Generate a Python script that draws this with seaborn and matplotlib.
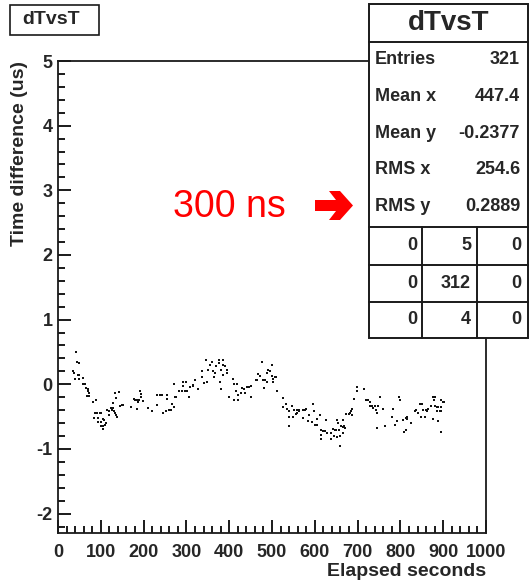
import matplotlib
matplotlib.use("Agg")
import matplotlib.pyplot as plt
from matplotlib.patches import Rectangle, Polygon
from matplotlib.lines import Line2D
from matplotlib.ticker import MultipleLocator
import seaborn as sns
import pandas as pd

# Elapsed time (s) and measured time difference (us) for each event
elapsed_s = [
    42, 45, 50, 36, 38, 46, 50, 40, 48, 58, 59, 62, 65, 69, 71, 73, 67, 72, 81, 88,
    86, 90, 97, 100, 85, 93, 94, 100, 104, 108, 111, 100, 106, 104, 110, 114, 118, 124, 125, 128,
    131, 133, 136, 137, 120, 128, 133, 143, 135, 145, 149, 153, 170, 178, 181, 184, 188, 184, 192, 193,
    193, 190, 199, 211, 219, 231, 232, 238, 243, 246, 252, 254, 254, 260, 264, 267, 271, 273, 276, 271,
    283, 289, 293, 297, 301, 293, 299, 305, 308, 316, 315, 320, 328, 336, 336, 340, 345, 347, 351, 355,
    359, 363, 364, 367, 369, 375, 377, 379, 380, 382, 385, 385, 386, 390, 394, 396, 408, 411, 418, 417,
    421, 421, 400, 412, 427, 429, 435, 437, 441, 447, 450, 452, 463, 466, 468, 472, 476, 480, 481, 484,
    488, 489, 491, 495, 501, 499, 503, 507, 509, 503, 512, 525, 525, 533, 536, 540, 540, 540,
    546, 548, 551, 556, 558, 559, 562, 564, 572, 573, 577, 579, 583, 587, 593, 595, 598, 600, 604, 606,
    612, 614, 614, 614, 618, 624, 626, 629, 639, 639, 642, 645, 647, 650, 651, 653, 655, 657, 659, 659,
    661, 665, 665, 667, 668, 670, 674, 679, 682, 684, 686, 688, 688, 692, 699, 699, 715, 720, 723, 725,
    729, 730, 733, 735, 741, 743, 745, 747, 752, 745, 760, 764, 780, 783, 787, 791, 797, 800, 805, 808,
    813, 812, 815, 816, 824, 834, 837, 842, 846, 850, 848, 852, 858, 860, 863, 865, 871, 875, 877, 881,
    879, 882, 885, 886, 888, 888, 892, 895, 896, 896, 896, 900, 902,
]
time_diff_us = [
    0.50, 0.34, 0.33, 0.20, 0.17, 0.15, 0.14, 0.08, 0.08, 0.10, 0.01, 0.01, -0.06, -0.07, -0.11, -0.14, -0.18, -0.18, -0.27, -0.25,
    -0.45, -0.45, -0.45, -0.45, -0.52, -0.52, -0.59, -0.59, -0.54, -0.55, -0.60, -0.64, -0.65, -0.69, -0.63, -0.39, -0.41, -0.37, -0.39, -0.37,
    -0.42, -0.44, -0.47, -0.51, -0.47, -0.29, -0.13, -0.12, -0.21, -0.33, -0.32, -0.32, -0.35, -0.23, -0.25, -0.24, -0.27, -0.38, -0.10, -0.15,
    -0.19, -0.24, -0.26, -0.37, -0.42, -0.32, -0.17, -0.17, -0.17, -0.45, -0.42, -0.22, -0.17, -0.39, -0.39, -0.30, -0.35, -0.19, -0.20, 0.01,
    -0.10, -0.10, -0.03, -0.10, -0.10, 0.04, 0.04, -0.20, -0.04, -0.02, -0.01, 0.07, -0.08, 0.12, 0.20, 0.02, 0.38, 0.04, 0.22, 0.30,
    0.35, 0.20, 0.12, 0.17, 0.28, 0.33, 0.38, 0.04, -0.07, 0.22, 0.38, 0.15, 0.30, 0.28, 0.22, 0.17, 0.08, 0.01, 0.01, -0.11,
    -0.16, -0.24, -0.20, -0.25, -0.13, -0.06, -0.07, -0.14, -0.04, -0.04, -0.20, -0.02, 0.07, 0.06, 0.16, 0.13, 0.35, 0.07, -0.06, 0.06,
    0.03, 0.17, 0.22, 0.20, 0.30, 0.13, 0.08, 0.12, 0.12, 0.04, -0.11, -0.21, -0.35, -0.30, -0.38, -0.42, -0.51, -0.64,
    -0.33, -0.51, -0.39, -0.46, -0.40, -0.44, -0.42, -0.40, -0.52, -0.39, -0.40, -0.38, -0.57, -0.47, -0.59, -0.30, -0.42, -0.63, -0.63, -0.54,
    -0.47, -0.70, -0.78, -0.85, -0.73, -0.73, -0.55, -0.75, -0.75, -0.85, -0.69, -0.80, -0.70, -0.70, -0.55, -0.81, -0.60, -0.70, -0.80, -0.95,
    -0.65, -0.55, -0.75, -0.66, -0.64, -0.68, -0.46, -0.46, -0.45, -0.41, -0.38, -0.38, -0.47, -0.23, -0.04, -0.10, -0.07, -0.24, -0.24, -0.25,
    -0.28, -0.34, -0.33, -0.37, -0.34, -0.40, -0.45, -0.33, -0.20, -0.68, -0.38, -0.65, -0.50, -0.38, -0.63, -0.57, -0.20, -0.25, -0.55, -0.74,
    -0.71, -0.52, -0.51, -0.54, -0.60, -0.41, -0.39, -0.44, -0.30, -0.30, -0.51, -0.40, -0.50, -0.39, -0.42, -0.38, -0.33, -0.54, -0.20, -0.20,
    -0.25, -0.33, -0.35, -0.42, -0.35, -0.57, -0.42, -0.35, -0.42, -0.25, -0.74, -0.27, -0.28,
]

# Statistics panel contents
hist_name = "dTvsT"
stat_labels = ["Entries", "Mean x", "Mean y", "RMS x", "RMS y"]
stat_values = ["321", "447.4", "-0.2377", "254.6", "0.2889"]
overflow_grid = [["0", "5", "0"], ["0", "312", "0"], ["0", "4", "0"]]

x_label = "Elapsed seconds"
y_label = "Time difference (us)"
note_text = "300 ns"

sns.set_style("white")
plt.rcParams["font.family"] = ["Liberation Sans", "DejaVu Sans"]
plt.rcParams["font.weight"] = "bold"
plt.rcParams["axes.unicode_minus"] = False

W, H = 529, 584
fig = plt.figure(figsize=(W / 100, H / 100), dpi=100)


def fx(px):
    return px / W


def fy(py):
    return 1 - py / H


ax = fig.add_axes([fx(58), fy(533), fx(486) - fx(58), fy(61) - fy(533)])

df = pd.DataFrame({"t": elapsed_s, "dt": time_diff_us})
sns.scatterplot(data=df, x="t", y="dt", ax=ax, marker="s", s=3,
                color="#111111", linewidth=0, legend=False)

ax.set_xlim(0, 1000)
ax.set_ylim(-2.3, 5)
ax.xaxis.set_major_locator(MultipleLocator(100))
ax.xaxis.set_minor_locator(MultipleLocator(20))
ax.yaxis.set_major_locator(MultipleLocator(1))
ax.yaxis.set_minor_locator(MultipleLocator(0.2))
ax.tick_params(which="both", direction="in", top=False, right=False,
               bottom=True, left=True, width=1.4, color="#1a1a1a")
ax.tick_params(which="major", length=9.3, labelsize=13)
ax.tick_params(axis="x", which="major", pad=8)
ax.tick_params(axis="y", which="major", pad=4)
ax.tick_params(which="minor", length=5)
for lab in ax.get_xticklabels() + ax.get_yticklabels():
    lab.set_fontweight("bold")
for sp in ax.spines.values():
    sp.set_linewidth(1.3)
    sp.set_color("#1a1a1a")
ax.set_xlabel("")
ax.set_ylabel("")

fig.text(fx(486), fy(571), x_label, ha="right", va="center",
         fontsize=14, fontweight="bold")
fig.text(fx(20), fy(61), y_label, ha="center", va="top", rotation=90,
         fontsize=14, fontweight="bold")

# Title box at the top left
fig.add_artist(Rectangle((fx(10), fy(35)), fx(99) - fx(10), fy(5) - fy(35),
                         transform=fig.transFigure, facecolor="white",
                         edgecolor="#1a1a1a", linewidth=1.2, zorder=5))
fig.text(fx(51), fy(20), hist_name, ha="center", va="center",
         fontsize=14, fontweight="bold", zorder=6)

# Statistics box
bx0, bx1, by0, by1 = 369, 528, 4, 338
fig.add_artist(Rectangle((fx(bx0), fy(by1)), fx(bx1) - fx(bx0), fy(by0) - fy(by1),
                         transform=fig.transFigure, facecolor="white",
                         edgecolor="#1a1a1a", linewidth=1.4, zorder=10))
for yy in (42, 227, 265, 302):
    fig.add_artist(Line2D([fx(bx0), fx(bx1)], [fy(yy), fy(yy)],
                          transform=fig.transFigure, color="#1a1a1a",
                          linewidth=1.4, zorder=11))
for xx in (422, 477):
    fig.add_artist(Line2D([fx(xx), fx(xx)], [fy(227), fy(by1)],
                          transform=fig.transFigure, color="#1a1a1a",
                          linewidth=1.4, zorder=11))
fig.text(fx((bx0 + bx1) / 2), fy(23), hist_name, ha="center", va="center",
         fontsize=20, fontweight="bold", zorder=12)
stat_rows_y = [60, 97, 133, 170, 207]
for lab, val, yy in zip(stat_labels, stat_values, stat_rows_y):
    fig.text(fx(375), fy(yy), lab, ha="left", va="center",
             fontsize=13, fontweight="bold", zorder=12)
    fig.text(fx(520), fy(yy), val, ha="right", va="center",
             fontsize=13, fontweight="bold", zorder=12)
grid_rows_y = [246, 284, 320]
grid_cols_x = [417, 471, 521]
for row, yy in zip(overflow_grid, grid_rows_y):
    for val, xx in zip(row, grid_cols_x):
        fig.text(fx(xx), fy(yy), val, ha="right", va="center",
                 fontsize=13, fontweight="bold", zorder=12)

# Red annotation with arrow pointing at the RMS y entry
fig.text(fx(173), fy(207), note_text, ha="left", va="center",
         fontsize=27, fontweight="normal", color="#ff0000", zorder=12)
arrow_px = [(315, 200), (336, 200), (329, 191), (340, 191), (353, 205.5),
            (340, 220), (329, 220), (336, 211), (315, 211)]
fig.add_artist(Polygon([(fx(a), fy(b)) for a, b in arrow_px], closed=True,
                       transform=fig.transFigure, facecolor="#ff0000",
                       edgecolor="none", zorder=12))

fig.savefig("out.png", dpi=100)
